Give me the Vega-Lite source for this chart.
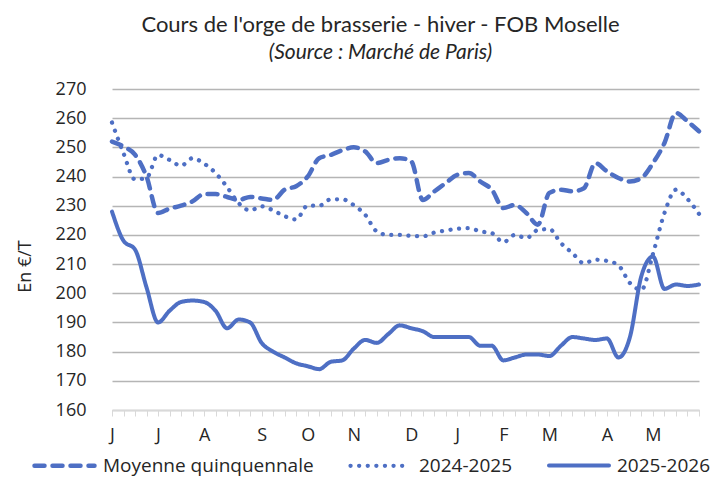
{
  "$schema": "https://vega.github.io/schema/vega-lite/v6.json",
  "width": 587,
  "height": 321,
  "autosize": {"type": "none"},
  "padding": {"left": 112, "top": 89, "right": 14, "bottom": 79},
  "background": "white",
  "title": {
    "text": "Cours de l'orge de brasserie - hiver - FOB Moselle",
    "subtitle": "(Source : Marché de Paris)",
    "anchor": "middle",
    "frame": "group",
    "dx": -25,
    "offset": 16,
    "font": "Lato",
    "fontSize": 22,
    "fontWeight": "normal",
    "color": "#262626",
    "subtitleFont": "Lato",
    "subtitleFontSize": 21,
    "subtitleFontStyle": "italic",
    "subtitleColor": "#262626",
    "subtitlePadding": 5
  },
  "config": {
    "view": {"stroke": null},
    "axis": {"labelFont": "Open Sans", "titleFont": "Open Sans"},
    "legend": {"labelFont": "Open Sans"}
  },
  "data": {
    "values": [
      {"week": 0, "Moyenne quinquennale": 252, "2024-2025": 258.5, "2025-2026": 228},
      {"week": 1, "Moyenne quinquennale": 250.3, "2024-2025": 248, "2025-2026": 218},
      {"week": 2, "Moyenne quinquennale": 247.5, "2024-2025": 239, "2025-2026": 215},
      {"week": 3, "Moyenne quinquennale": 240, "2024-2025": 239.5, "2025-2026": 202},
      {"week": 4, "Moyenne quinquennale": 227.5, "2024-2025": 247.4, "2025-2026": 190},
      {"week": 5, "Moyenne quinquennale": 229, "2024-2025": 245.7, "2025-2026": 194},
      {"week": 6, "Moyenne quinquennale": 230, "2024-2025": 243.7, "2025-2026": 197},
      {"week": 7, "Moyenne quinquennale": 231.5, "2024-2025": 246.3, "2025-2026": 197.5},
      {"week": 8, "Moyenne quinquennale": 234, "2024-2025": 244.4, "2025-2026": 197},
      {"week": 9, "Moyenne quinquennale": 234, "2024-2025": 241.2, "2025-2026": 194},
      {"week": 10, "Moyenne quinquennale": 233, "2024-2025": 236.4, "2025-2026": 188},
      {"week": 11, "Moyenne quinquennale": 232, "2024-2025": 230.9, "2025-2026": 191},
      {"week": 12, "Moyenne quinquennale": 233, "2024-2025": 228.4, "2025-2026": 190},
      {"week": 13, "Moyenne quinquennale": 232.5, "2024-2025": 229.8, "2025-2026": 183},
      {"week": 14, "Moyenne quinquennale": 232, "2024-2025": 228.4, "2025-2026": 180},
      {"week": 15, "Moyenne quinquennale": 235.5, "2024-2025": 226.4, "2025-2026": 178},
      {"week": 16, "Moyenne quinquennale": 236.7, "2024-2025": 225.3, "2025-2026": 176},
      {"week": 17, "Moyenne quinquennale": 240, "2024-2025": 230.1, "2025-2026": 175},
      {"week": 18, "Moyenne quinquennale": 246.3, "2024-2025": 230, "2025-2026": 174},
      {"week": 19, "Moyenne quinquennale": 247.4, "2024-2025": 232.2, "2025-2026": 176.5},
      {"week": 20, "Moyenne quinquennale": 249, "2024-2025": 232.2, "2025-2026": 177},
      {"week": 21, "Moyenne quinquennale": 250, "2024-2025": 230.2, "2025-2026": 181},
      {"week": 22, "Moyenne quinquennale": 248.6, "2024-2025": 226.9, "2025-2026": 184},
      {"week": 23, "Moyenne quinquennale": 244.6, "2024-2025": 221.2, "2025-2026": 183},
      {"week": 24, "Moyenne quinquennale": 245.7, "2024-2025": 220, "2025-2026": 186},
      {"week": 25, "Moyenne quinquennale": 246.3, "2024-2025": 220, "2025-2026": 189},
      {"week": 26, "Moyenne quinquennale": 245.2, "2024-2025": 219.7, "2025-2026": 188},
      {"week": 27, "Moyenne quinquennale": 232, "2024-2025": 219.5, "2025-2026": 187},
      {"week": 28, "Moyenne quinquennale": 234.9, "2024-2025": 220.8, "2025-2026": 185},
      {"week": 29, "Moyenne quinquennale": 237.8, "2024-2025": 221.5, "2025-2026": 185},
      {"week": 30, "Moyenne quinquennale": 240.6, "2024-2025": 222.1, "2025-2026": 185},
      {"week": 31, "Moyenne quinquennale": 241.2, "2024-2025": 222.3, "2025-2026": 185},
      {"week": 32, "Moyenne quinquennale": 238.3, "2024-2025": 221.2, "2025-2026": 182},
      {"week": 33, "Moyenne quinquennale": 235.5, "2024-2025": 220.6, "2025-2026": 182},
      {"week": 34, "Moyenne quinquennale": 229.2, "2024-2025": 217.5, "2025-2026": 177},
      {"week": 35, "Moyenne quinquennale": 230.3, "2024-2025": 220, "2025-2026": 178},
      {"week": 36, "Moyenne quinquennale": 227.5, "2024-2025": 218.9, "2025-2026": 179},
      {"week": 37, "Moyenne quinquennale": 223.5, "2024-2025": 221.7, "2025-2026": 179},
      {"week": 38, "Moyenne quinquennale": 234.4, "2024-2025": 222, "2025-2026": 178.5},
      {"week": 39, "Moyenne quinquennale": 235.5, "2024-2025": 217.2, "2025-2026": 182},
      {"week": 40, "Moyenne quinquennale": 234.9, "2024-2025": 213.8, "2025-2026": 185},
      {"week": 41, "Moyenne quinquennale": 236, "2024-2025": 210.3, "2025-2026": 184.5},
      {"week": 42, "Moyenne quinquennale": 244.6, "2024-2025": 211.5, "2025-2026": 184},
      {"week": 43, "Moyenne quinquennale": 241.8, "2024-2025": 211.1, "2025-2026": 184.5},
      {"week": 44, "Moyenne quinquennale": 239.5, "2024-2025": 209.6, "2025-2026": 178},
      {"week": 45, "Moyenne quinquennale": 238.3, "2024-2025": 203.5, "2025-2026": 185},
      {"week": 46, "Moyenne quinquennale": 239.5, "2024-2025": 201.2, "2025-2026": 206},
      {"week": 47, "Moyenne quinquennale": 244.6, "2024-2025": 213.5, "2025-2026": 212.6},
      {"week": 48, "Moyenne quinquennale": 251.5, "2024-2025": 227.5, "2025-2026": 201.5},
      {"week": 49, "Moyenne quinquennale": 261.8, "2024-2025": 235.5, "2025-2026": 203},
      {"week": 50, "Moyenne quinquennale": 258.9, "2024-2025": 232.3, "2025-2026": 202.5},
      {"week": 51, "Moyenne quinquennale": 255.5, "2024-2025": 227.2, "2025-2026": 203}
    ]
  },
  "transform": [
    {"fold": ["Moyenne quinquennale", "2024-2025", "2025-2026"], "as": ["series", "value"]}
  ],
  "mark": {"type": "line", "interpolate": "monotone", "strokeCap": "round", "strokeJoin": "round"},
  "encoding": {
    "x": {
      "field": "week",
      "type": "quantitative",
      "scale": {"domain": [0, 51], "nice": false, "zero": false},
      "axis": {
        "title": null,
        "values": [0,1,2,3,4,5,6,7,8,9,10,11,12,13,14,15,16,17,18,19,20,21,22,23,24,25,26,27,28,29,30,31,32,33,34,35,36,37,38,39,40,41,42,43,44,45,46,47,48,49,50,51],
        "labelExpr": "{'0':'J','4':'J','8':'A','13':'S','17':'O','21':'N','26':'D','30':'J','34':'F','38':'M','43':'A','47':'M'}[datum.value] || ''",
        "labelOverlap": false,
        "labelFlush": false,
        "labelFontSize": 18,
        "labelColor": "#262626",
        "labelPadding": 10,
        "domainColor": "#d9d9d9",
        "domainWidth": 1.5,
        "tickColor": "#d9d9d9",
        "tickSize": 6,
        "tickWidth": 1,
        "grid": false
      }
    },
    "y": {
      "field": "value",
      "type": "quantitative",
      "scale": {"domain": [160, 270], "nice": false, "zero": false},
      "axis": {
        "title": "En €/T",
        "titleFontSize": 18,
        "titleFontWeight": "normal",
        "titleColor": "#262626",
        "titleX": -78,
        "titleY": 177,
        "values": [160,170,180,190,200,210,220,230,240,250,260,270],
        "labelFontSize": 18,
        "labelColor": "#262626",
        "labelPadding": 26,
        "domain": false,
        "ticks": false,
        "tickSize": 0,
        "grid": true,
        "gridColor": "#b5b5b5",
        "gridWidth": 1.5
      }
    },
    "color": {
      "field": "series",
      "type": "nominal",
      "scale": {"domain": ["Moyenne quinquennale", "2024-2025", "2025-2026"], "range": ["#4e6fc4", "#4e6fc4", "#4e6fc4"]},
      "legend": {
        "title": null,
        "orient": "none",
        "direction": "horizontal",
        "legendX": -80,
        "legendY": 344,
        "symbolType": "stroke",
        "symbolSize": 3600,
        "labelFontSize": 19,
        "labelLimit": 0,
        "labelColor": "#262626",
        "labelOffset": 6,
        "columnPadding": 28,
        "symbolStrokeColor": "#4e6fc4",
        "encode": {"symbols": {"update": {"strokeCap": {"value": "round"}}}}
      }
    },
    "strokeDash": {
      "field": "series",
      "type": "nominal",
      "scale": {"domain": ["Moyenne quinquennale", "2024-2025", "2025-2026"], "range": [[10, 8], [0.1, 8.5], [1, 0]]}
    },
    "strokeWidth": {
      "field": "series",
      "type": "nominal",
      "scale": {"domain": ["Moyenne quinquennale", "2024-2025", "2025-2026"], "range": [4.5, 4, 4.5]}
    }
  }
}
